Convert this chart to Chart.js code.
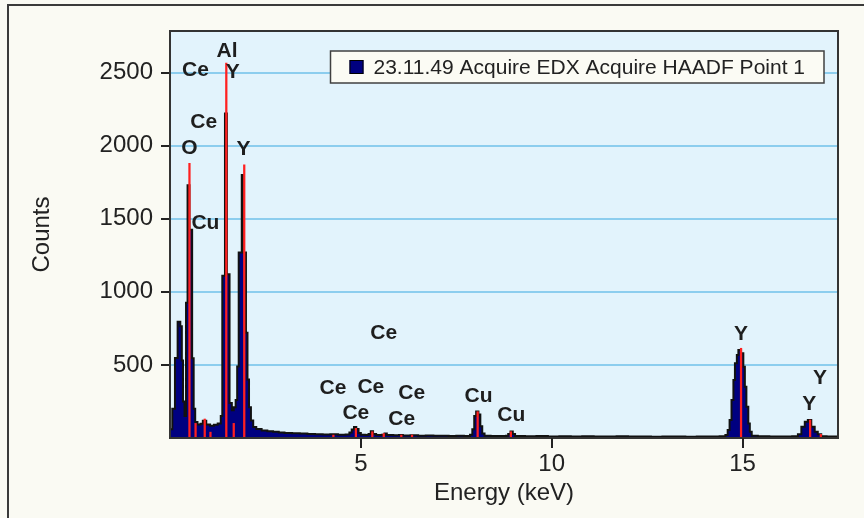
<!DOCTYPE html>
<html>
<head>
<meta charset="utf-8">
<title>EDX spectrum</title>
<script src="https://cdn.jsdelivr.net/npm/chart.js@4.4.1/dist/chart.umd.min.js"></script>
<style>
  html, body { margin: 0; padding: 0; background: #fafaf3; }
  canvas { display: block; }
</style>
</head>
<body>
<canvas id="edx" width="864" height="518"></canvas>
<script>
// Spectrum: channel edges in keV, each count held until the next edge
const energy = [
  0.00, 0.06, 0.13, 0.20, 0.27, 0.31, 0.34, 0.38, 0.42, 0.46,
  0.51, 0.58, 0.62, 0.66, 0.72, 0.80, 0.86, 0.95, 1.05, 1.15,
  1.25, 1.33, 1.37, 1.44, 1.49, 1.56, 1.62, 1.67, 1.72, 1.76,
  1.80, 1.88, 1.93, 1.99, 2.03, 2.07, 2.12, 2.18, 2.26, 2.40,
  2.55, 2.70, 2.85, 3.00, 3.20, 3.40, 3.60, 3.80, 4.00, 4.20,
  4.40, 4.60, 4.70, 4.76, 4.82, 4.88, 4.94, 5.00, 5.12, 5.20,
  5.26, 5.32, 5.40, 5.55, 5.62, 5.68, 5.85, 6.00, 6.10, 6.30,
  6.50, 6.70, 6.90, 7.10, 7.30, 7.50, 7.70, 7.86, 7.92, 7.97,
  8.02, 8.08, 8.13, 8.18, 8.24, 8.40, 8.60, 8.80, 8.86, 8.92,
  8.98, 9.04, 9.30, 9.60, 9.90, 10.20, 10.50, 10.80, 11.10, 11.40,
  11.70, 12.00, 12.30, 12.60, 12.90, 13.20, 13.50, 13.80, 14.10, 14.40,
  14.55, 14.61, 14.66, 14.71, 14.76, 14.80, 14.85, 14.89, 14.96, 15.02,
  15.06, 15.10, 15.15, 15.19, 15.24, 15.40, 15.70, 16.00, 16.30, 16.45,
  16.54, 16.63, 16.71, 16.80, 16.89, 16.97, 17.06, 17.20, 17.50
];
const counts = [
  60, 200, 548, 795, 765, 530, 250, 150, 925, 1730,
  1425, 545, 200, 110, 92, 98, 118, 92, 84, 90,
  100, 150, 1110, 2220, 1120, 240, 190, 210, 260, 490,
  1270, 1800, 1270, 720, 400, 210, 120, 75, 62, 52,
  46, 42, 38, 35, 32, 30, 27, 26, 24, 25,
  22, 24, 38, 58, 76, 62, 34, 22, 20, 28,
  46, 28, 20, 22, 30, 20, 18, 21, 17, 18,
  16, 17, 15, 16, 14, 15, 14, 22, 60, 150,
  182, 160, 80, 30, 15, 14, 13, 15, 28, 44,
  28, 14, 12, 13, 11, 12, 10, 12, 11, 10,
  12, 10, 11, 9, 11, 10, 9, 11, 10, 12,
  20, 55, 123, 260, 397, 511, 568, 603, 580, 488,
  351, 214, 100, 43, 15, 12, 10, 11, 12, 25,
  77, 112, 123, 77, 43, 25, 12, 10, 10
];

// Fitted element line markers (keV, counts)
const lineEnergy = [0.51, 0.67, 0.91, 1.06, 1.475, 1.67, 1.945, 4.28, 4.87, 5.30, 5.60, 6.06, 6.34, 8.06, 8.93, 14.96, 16.77, 17.05];
const lineCounts = [1880, 100, 130, 40, 2565, 100, 1870, 20, 66, 43, 30, 20, 20, 180, 43, 614, 123, 25];

// Peak identification labels, centred at (keV, counts)
const peakText   = ['Ce', 'Al', 'Y', 'Ce', 'O', 'Y', 'Cu', 'Ce', 'Ce', 'Ce', 'Ce', 'Ce', 'Ce', 'Cu', 'Cu', 'Y', 'Y', 'Y'];
const peakEnergy = [0.666, 1.493, 1.645, 0.883, 0.509, 1.927, 0.927, 5.60, 4.269, 5.261, 6.332, 4.869, 6.070, 8.081, 8.943, 14.96, 17.03, 16.75];
const peakCounts = [2514, 2644, 2503, 2161, 1986, 1973, 1469, 719, 342, 346, 308, 171, 130, 284, 154, 709, 411, 228];

const xTicks = [5, 10, 15];
const yTicks = [500, 1000, 1500, 2000, 2500];
const seriesName = '23.11.49 Acquire EDX Acquire HAADF Point 1';

const FONT = "'Liberation Sans', Arial, sans-serif";
const INK = '#222222';

const backdrop = {
  id: 'backdrop',
  beforeDraw(chart) {
    const { ctx, chartArea: a, width, height } = chart;
    ctx.save();
    ctx.fillStyle = '#fafaf3';
    ctx.fillRect(0, 0, width, height);
    ctx.strokeStyle = '#3a3a3a';
    ctx.lineWidth = 2;
    ctx.beginPath();
    ctx.moveTo(8, height);
    ctx.lineTo(8, 5);
    ctx.lineTo(width, 5);
    ctx.stroke();
    ctx.fillStyle = '#e2f3fc';
    ctx.fillRect(a.left, a.top, a.right - a.left, a.bottom - a.top);
    ctx.restore();
  },
  afterDraw(chart) {
    const { ctx, chartArea: a, scales: { x } } = chart;
    ctx.save();
    ctx.strokeStyle = '#333333';
    ctx.lineWidth = 2;
    ctx.strokeRect(a.left, a.top, a.right - a.left, a.bottom - a.top);
    // energy tick marks below the axis
    ctx.strokeStyle = '#222';
    ctx.beginPath();
    x.ticks.forEach(t => {
      const px = Math.round(x.getPixelForValue(t.value));
      ctx.moveTo(px, a.bottom);
      ctx.lineTo(px, a.bottom + 10);
    });
    ctx.stroke();
    ctx.restore();
  }
};

const peakLabels = {
  id: 'peakLabels',
  afterDatasetsDraw(chart) {
    const { ctx, scales: { x, y } } = chart;
    ctx.save();
    ctx.font = 'bold 21px ' + FONT;
    ctx.fillStyle = '#1e1e1e';
    ctx.textAlign = 'center';
    ctx.textBaseline = 'middle';
    peakText.forEach((t, i) => {
      ctx.fillText(t, x.getPixelForValue(peakEnergy[i]), y.getPixelForValue(peakCounts[i]));
    });
    ctx.restore();
  }
};

// Boxed legend inside the top right of the plot
const legendBox = {
  id: 'legendBox',
  afterDraw(chart) {
    const { ctx, chartArea: a } = chart;
    const ds = chart.data.datasets[0];
    ctx.save();
    ctx.font = '21px ' + FONT;
    const tw = ctx.measureText(ds.label).width;
    const w = 19 + 14 + 10 + tw + 19;
    const h = 32;
    const right = a.right - 14;
    const left = right - w;
    const top = a.top + 20;
    ctx.fillStyle = '#fbfbf4';
    ctx.fillRect(left, top, w, h);
    ctx.strokeStyle = '#404040';
    ctx.lineWidth = 1.5;
    ctx.strokeRect(left, top, w, h);
    const cy = top + h / 2;
    ctx.fillStyle = ds.backgroundColor;
    ctx.fillRect(left + 19, cy - 7, 14, 14);
    ctx.strokeStyle = '#000';
    ctx.lineWidth = 1;
    ctx.strokeRect(left + 19.5, cy - 6.5, 13, 13);
    ctx.fillStyle = INK;
    ctx.textBaseline = 'middle';
    ctx.fillText(ds.label, left + 19 + 14 + 10, cy + 1);
    ctx.restore();
  }
};

new Chart(document.getElementById('edx'), {
  type: 'line',
  data: {
    datasets: [
      {
        label: seriesName,
        data: energy.map((e, i) => ({ x: e, y: counts[i] })),
        stepped: 'before',
        fill: 'origin',
        backgroundColor: '#000080',
        borderColor: '#111111',
        borderWidth: 2,
        pointRadius: 0,
        order: 2
      },
      {
        type: 'bar',
        label: 'lines',
        data: lineEnergy.map((e, i) => ({ x: e, y: lineCounts[i] })),
        backgroundColor: '#ff2020',
        barThickness: 1.6,
        order: 1
      }
    ]
  },
  options: {
    responsive: false,
    devicePixelRatio: 1,
    animation: false,
    events: [],
    layout: { padding: { top: 31, right: 26, left: 0, bottom: 0 } },
    plugins: { legend: { display: false }, tooltip: { enabled: false } },
    scales: {
      x: {
        type: 'linear',
        min: 0,
        max: 17.5,
        offset: false,
        afterFit: s => { s.height = 80; },
        afterBuildTicks: s => { s.ticks = xTicks.map(v => ({ value: v })); },
        grid: { offset: false, drawOnChartArea: false, drawTicks: false },
        border: { color: '#333', width: 2 },
        ticks: { color: INK, font: { family: FONT, size: 24 }, padding: 12, maxRotation: 0, callback: v => String(v) },
        title: { display: true, text: 'Energy (keV)', color: INK, font: { family: FONT, size: 24 }, padding: { top: 0, bottom: 10.6 } }
      },
      y: {
        min: 0,
        max: 2785,
        afterFit: s => { s.width = 170; },
        afterBuildTicks: s => { s.ticks = yTicks.map(v => ({ value: v })); },
        grid: { color: '#8ccdee', lineWidth: 2, tickLength: 9, tickColor: '#222', tickWidth: 2 },
        border: { color: '#333', width: 2 },
        ticks: { color: INK, font: { family: FONT, size: 24 }, padding: 8, callback: v => String(v) },
        title: { display: true, text: 'Counts', color: INK, font: { family: FONT, size: 24 }, padding: { top: 27.6, bottom: 0 } }
      }
    }
  },
  plugins: [backdrop, peakLabels, legendBox]
});
</script>
</body>
</html>
